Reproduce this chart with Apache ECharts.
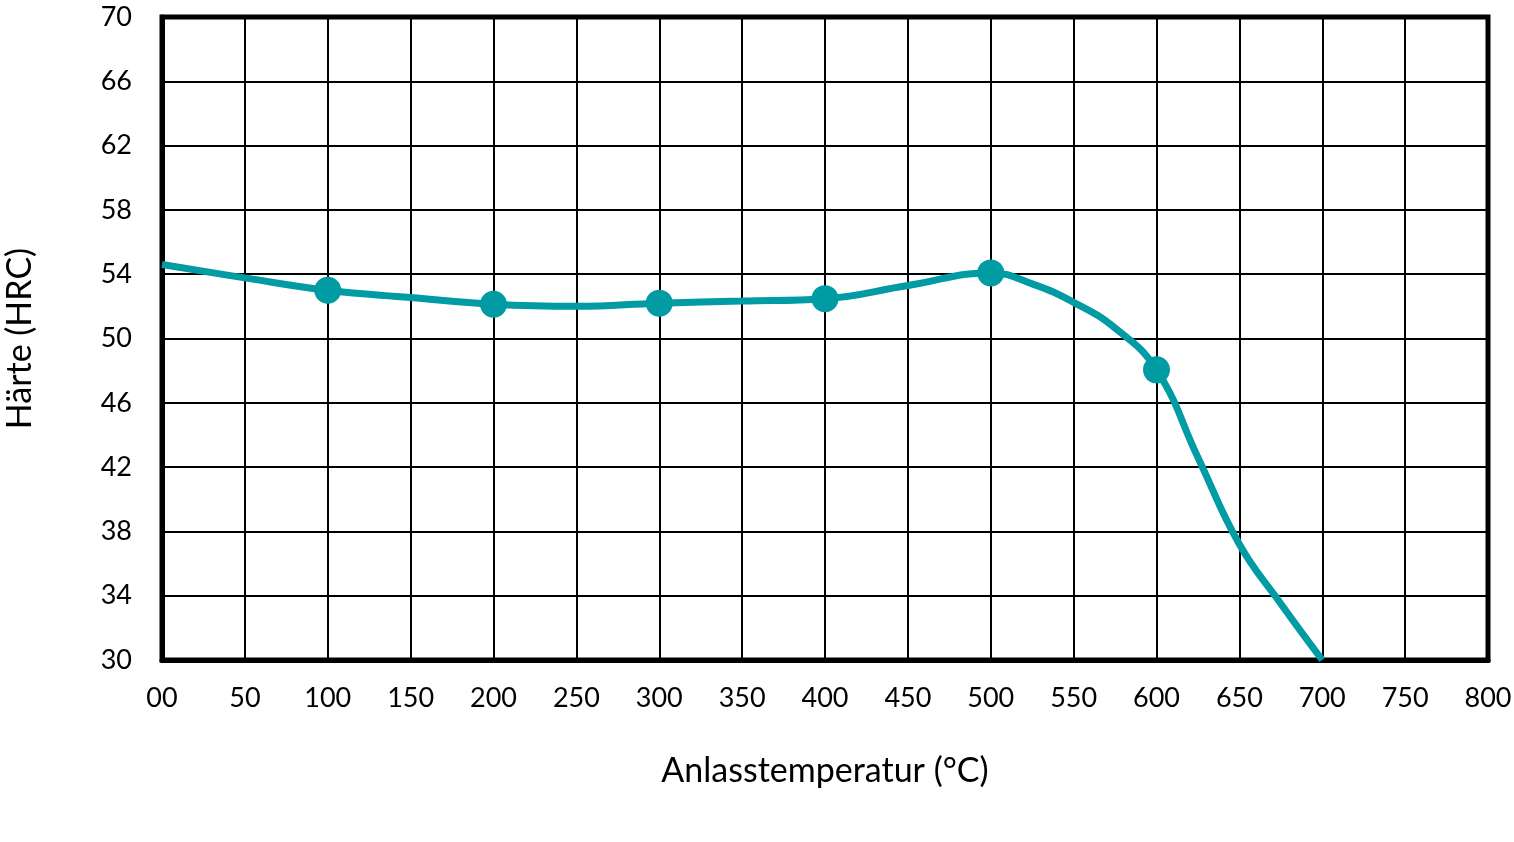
<!DOCTYPE html>
<html>
<head>
<meta charset="utf-8">
<script src="https://cdn.jsdelivr.net/npm/echarts@6/dist/echarts.min.js"></script>
<style>
  html, body { margin: 0; padding: 0; background: #fff; }
  #chart { width: 1514px; height: 842px; }
</style>
</head>
<body>
<div id="chart"></div>
<script>
"use strict"
// Anlasstemperatur (°C) vs Härte (HRC)
const temps    = [0, 50, 100, 150, 200, 250, 300, 350, 400, 450, 500, 525, 550, 575, 600, 625, 650, 675, 700];
const hardness = [54.6, 53.77, 53.0, 52.55, 52.13, 52.0, 52.2, 52.33, 52.48, 53.3, 54.08, 53.4, 52.25, 50.65, 48.05, 42.6, 37.2, 33.5, 30];
// measured points (drawn with a dot)
const markedTemps = [100, 200, 300, 400, 500, 600];

const xName = 'Anlasstemperatur (°C)';
const yName = 'Härte (HRC)';
const teal = '#009ba3';
const font = 'Lato, "Noto Sans", sans-serif';

const chart = echarts.init(document.getElementById('chart'));

var lineData = [];
for (var i = 0; i < temps.length; i++) {
    lineData.push({
        value: [temps[i], hardness[i]],
        symbol: markedTemps.indexOf(temps[i]) >= 0 ? 'circle' : 'none'
    });
}

var option = {
    animation: false,
    grid: {
        left: 162,
        top: 17,
        right: 26,
        bottom: 182,
        outerBoundsMode: 'none',
        show: true,
        borderColor: '#000',
        borderWidth: 5
    },
    xAxis: {
        type: 'value',
        min: 0,
        max: 800,
        interval: 50,
        name: xName,
        nameLocation: 'middle',
        nameGap: 94,
        nameTextStyle: { fontFamily: font, fontSize: 34, color: '#000' },
        axisLine: { show: true, lineStyle: { color: '#000', width: 5 } },
        axisTick: { show: false },
        axisLabel: {
            margin: 25,
            fontFamily: font,
            fontSize: 27,
            color: '#000',
            formatter: function (v) { return v === 0 ? '00' : String(v); }
        },
        splitLine: { show: true, lineStyle: { color: '#000', width: 2 } }
    },
    yAxis: {
        type: 'value',
        min: 30,
        max: 70,
        interval: 4,
        name: yName,
        nameLocation: 'middle',
        nameGap: 125,
        nameRotate: 90,
        nameTextStyle: { fontFamily: font, fontSize: 34, color: '#000' },
        axisLine: { show: true, lineStyle: { color: '#000', width: 5 } },
        axisTick: { show: false },
        axisLabel: {
            margin: 30,
            fontFamily: font,
            fontSize: 27,
            color: '#000'
        },
        splitLine: { show: true, lineStyle: { color: '#000', width: 2 } }
    },
    series: [{
        type: 'line',
        data: lineData,
        smooth: 0.45,
        symbolSize: 27,
        showSymbol: true,
        lineStyle: { color: teal, width: 7 },
        itemStyle: { color: teal, borderWidth: 0 },
        z: 5
    }]
};
chart.setOption(option);
</script>
</body>
</html>
